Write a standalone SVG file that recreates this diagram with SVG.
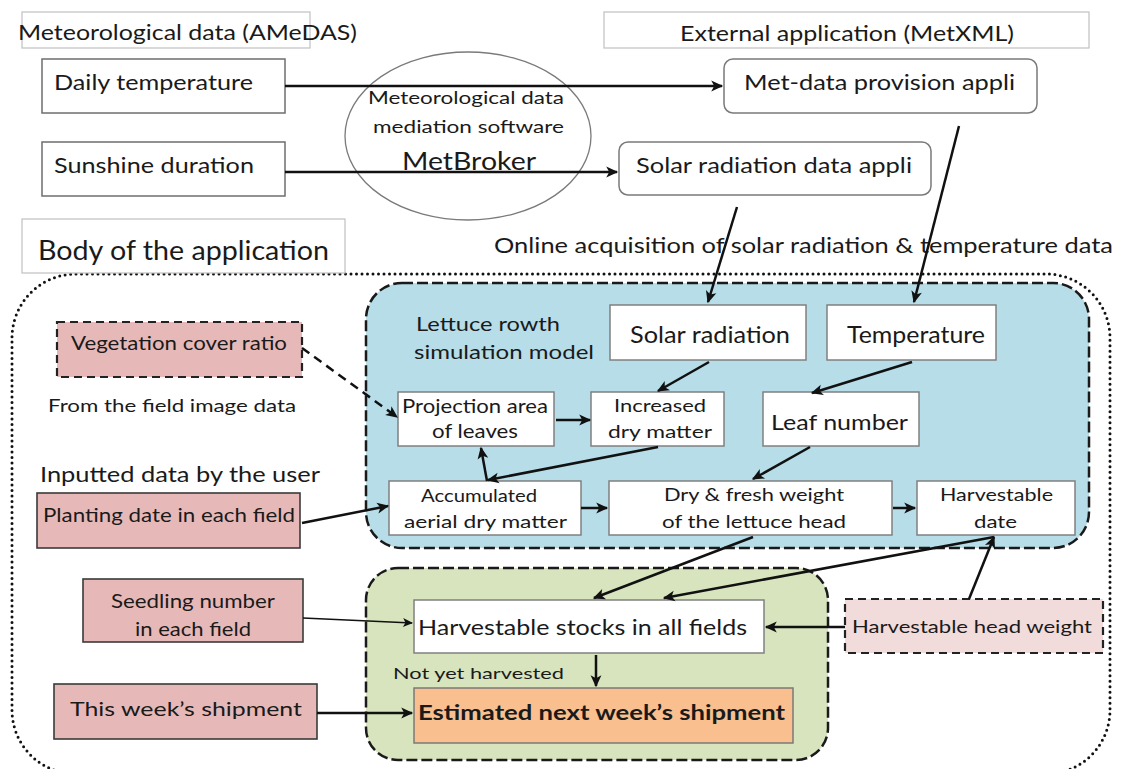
<svg xmlns="http://www.w3.org/2000/svg" width="1122" height="769" viewBox="0 0 1122 769">
<defs>
<marker id="ah" viewBox="0 0 10 10" refX="9" refY="5" markerUnits="userSpaceOnUse" markerWidth="13" markerHeight="12" orient="auto">
<path d="M0,0.5 L10,5 L0,9.5 L2.5,5 z" fill="#111"/>
</marker>
<marker id="ahs" viewBox="0 0 10 10" refX="9" refY="5" markerUnits="userSpaceOnUse" markerWidth="11" markerHeight="10" orient="auto">
<path d="M0,0.5 L10,5 L0,9.5 L2.5,5 z" fill="#111"/>
</marker>
</defs>
<style>
text{font-family:Lato,"Liberation Sans",sans-serif;fill:#1a1a1a}
.title{fill:#fff;stroke:#c0c0c0;stroke-width:1.2}
.src{fill:#fff;stroke:#6e6e6e;stroke-width:1.5}
.app{fill:#fff;stroke:#7a7a7a;stroke-width:1.5}
.wb{fill:#fff;stroke:#808080;stroke-width:1.5}
.pink{fill:#e6b9b8;stroke:#3a3a3a;stroke-width:1.6}
.pinkd{fill:#e6b9b8;stroke:#222;stroke-width:2.2;stroke-dasharray:8 5}
.pinkl{fill:#f2dcdb;stroke:#222;stroke-width:2.2;stroke-dasharray:8 5}
.c{stroke:#111;fill:none;stroke-width:2.5}
.thin{stroke:#111;fill:none;stroke-width:1.6}
</style>

<g id="outer">
<rect x="12" y="274" width="1098" height="500" rx="64" fill="none" stroke="#111" stroke-width="3" stroke-dasharray="0 5.5" stroke-linecap="round"/>
</g>
<g id="sim-model">
<rect x="366" y="283" width="723" height="265" rx="36" fill="#b7dde8" stroke="#1a1a1a" stroke-width="2.5" stroke-dasharray="11 4"/>
<text x="416" y="331" font-size="20" textLength="144" lengthAdjust="spacingAndGlyphs">Lettuce rowth</text>
<text x="414" y="359" font-size="20" textLength="180" lengthAdjust="spacingAndGlyphs">simulation model</text>
</g>
<g id="stock-group">
<rect x="366" y="568" width="462" height="192" rx="32" fill="#d7e4bd" stroke="#1a1a1a" stroke-width="2.5" stroke-dasharray="11 4"/>
</g>

<g id="amedas-title">
<rect class="title" x="22" y="12" width="288" height="36"/>
<text x="18" y="40" font-size="21" textLength="339" lengthAdjust="spacingAndGlyphs">Meteorological data (AMeDAS)</text>
</g>
<g id="metxml-title">
<rect class="title" x="604" y="12" width="485" height="36"/>
<text x="680" y="41" font-size="21" textLength="334" lengthAdjust="spacingAndGlyphs">External application (MetXML)</text>
</g>
<g id="daily-temp">
<rect class="src" x="42" y="59" width="243" height="54"/>
<text x="54" y="90" font-size="22" textLength="199" lengthAdjust="spacingAndGlyphs">Daily temperature</text>
</g>
<g id="sunshine">
<rect class="src" x="42" y="142" width="243" height="54"/>
<text x="54" y="173" font-size="22" textLength="200" lengthAdjust="spacingAndGlyphs">Sunshine duration</text>
</g>
<g id="metbroker">
<ellipse cx="468" cy="136" rx="123" ry="84" fill="none" stroke="#7a7a7a" stroke-width="1.3"/>
<text x="368" y="104" font-size="18" textLength="196" lengthAdjust="spacingAndGlyphs">Meteorological data</text>
<text x="373" y="133" font-size="18" textLength="191" lengthAdjust="spacingAndGlyphs">mediation software</text>
<text x="402" y="170" font-size="25" textLength="134" lengthAdjust="spacingAndGlyphs">MetBroker</text>
</g>
<g id="metdata-appli">
<rect class="app" x="724" y="59" width="313" height="54" rx="9"/>
<text x="744" y="90" font-size="22" textLength="271" lengthAdjust="spacingAndGlyphs">Met-data provision appli</text>
</g>
<g id="solar-appli">
<rect class="app" x="619" y="142" width="312" height="53" rx="9"/>
<text x="636" y="173" font-size="22" textLength="276" lengthAdjust="spacingAndGlyphs">Solar radiation data appli</text>
</g>
<g id="body-title">
<rect class="title" x="22" y="219" width="323" height="54"/>
<text x="38" y="260" font-size="26" textLength="291" lengthAdjust="spacingAndGlyphs">Body of the application</text>
</g>
<g id="online-label">
<text x="494" y="253" font-size="21" textLength="619" lengthAdjust="spacingAndGlyphs">Online acquisition of solar radiation &amp; temperature data</text>
</g>

<g id="solar-radiation">
<rect class="wb" x="610" y="305" width="196" height="55"/>
<text x="630" y="343" font-size="23" textLength="160" lengthAdjust="spacingAndGlyphs">Solar radiation</text>
</g>
<g id="temperature">
<rect class="wb" x="827" y="305" width="169" height="55"/>
<text x="847" y="343" font-size="23" textLength="138" lengthAdjust="spacingAndGlyphs">Temperature</text>
</g>
<g id="projection">
<rect class="wb" x="398" y="392" width="156" height="54"/>
<text x="402" y="413" font-size="19" textLength="146" lengthAdjust="spacingAndGlyphs">Projection area</text>
<text x="432" y="438" font-size="19" textLength="86" lengthAdjust="spacingAndGlyphs">of leaves</text>
</g>
<g id="increased">
<rect class="wb" x="591" y="392" width="133" height="54"/>
<text x="614" y="412" font-size="18" textLength="92" lengthAdjust="spacingAndGlyphs">Increased</text>
<text x="608" y="438" font-size="18" textLength="104" lengthAdjust="spacingAndGlyphs">dry matter</text>
</g>
<g id="leaf-number">
<rect class="wb" x="763" y="392" width="156" height="54"/>
<text x="771" y="430" font-size="21" textLength="137" lengthAdjust="spacingAndGlyphs">Leaf number</text>
</g>
<g id="accumulated">
<rect class="wb" x="389" y="481" width="192" height="54"/>
<text x="421" y="502" font-size="18" textLength="116" lengthAdjust="spacingAndGlyphs">Accumulated</text>
<text x="404" y="528" font-size="18" textLength="163" lengthAdjust="spacingAndGlyphs">aerial dry matter</text>
</g>
<g id="dry-fresh">
<rect class="wb" x="609" y="481" width="283" height="54"/>
<text x="664" y="501" font-size="18" textLength="180" lengthAdjust="spacingAndGlyphs">Dry &amp; fresh weight</text>
<text x="662" y="528" font-size="18" textLength="184" lengthAdjust="spacingAndGlyphs">of the lettuce head</text>
</g>
<g id="harvestable-date">
<rect class="wb" x="917" y="481" width="158" height="54"/>
<text x="940" y="501" font-size="18" textLength="113" lengthAdjust="spacingAndGlyphs">Harvestable</text>
<text x="974" y="528" font-size="18" textLength="43" lengthAdjust="spacingAndGlyphs">date</text>
</g>

<g id="vegetation">
<rect class="pinkd" x="57" y="322" width="245" height="55"/>
<text x="71" y="350" font-size="20" textLength="216" lengthAdjust="spacingAndGlyphs">Vegetation cover ratio</text>
<text x="48" y="412" font-size="18" textLength="248" lengthAdjust="spacingAndGlyphs">From the field image data</text>
</g>
<g id="planting">
<text x="40" y="482" font-size="21" textLength="280" lengthAdjust="spacingAndGlyphs">Inputted data by the user</text>
<rect class="pink" x="37" y="493" width="263" height="55"/>
<text x="43" y="522" font-size="19" textLength="252" lengthAdjust="spacingAndGlyphs">Planting date in each field</text>
</g>
<g id="seedling">
<rect class="pink" x="83" y="579" width="220" height="63"/>
<text x="111" y="608" font-size="19" textLength="164" lengthAdjust="spacingAndGlyphs">Seedling number</text>
<text x="135" y="636" font-size="19" textLength="116" lengthAdjust="spacingAndGlyphs">in each field</text>
</g>
<g id="this-week">
<rect class="pink" x="54" y="684" width="263" height="55"/>
<text x="70" y="716" font-size="20" textLength="232" lengthAdjust="spacingAndGlyphs">This week’s shipment</text>
</g>
<g id="stocks">
<rect class="wb" x="414" y="600" width="350" height="53"/>
<text x="418" y="635" font-size="21" textLength="329" lengthAdjust="spacingAndGlyphs">Harvestable stocks in all fields</text>
<text x="393" y="679" font-size="16" textLength="171" lengthAdjust="spacingAndGlyphs">Not yet harvested</text>
</g>
<g id="estimated">
<rect x="414" y="688" width="379" height="55" fill="#f9bf8f" stroke="#7a7a7a" stroke-width="1.5"/>
<text x="418" y="720" font-size="20" font-weight="bold" textLength="367" lengthAdjust="spacingAndGlyphs">Estimated next week’s shipment</text>
</g>
<g id="head-weight">
<rect class="pinkl" x="845" y="599" width="258" height="54"/>
<text x="852" y="633" font-size="18" textLength="240" lengthAdjust="spacingAndGlyphs">Harvestable head weight</text>
</g>

<g id="connectors">
<line class="c" x1="285" y1="86" x2="722" y2="86" marker-end="url(#ah)"/>
<line class="c" x1="285" y1="172" x2="617" y2="172" marker-end="url(#ah)"/>
<line class="c" x1="737" y1="207" x2="708" y2="302" marker-end="url(#ah)"/>
<line class="c" x1="959" y1="126" x2="914" y2="302" marker-end="url(#ah)"/>
<line class="c" x1="709" y1="362" x2="658" y2="391" marker-end="url(#ah)"/>
<line class="c" x1="912" y1="362" x2="812" y2="393" marker-end="url(#ah)"/>
<line class="c" x1="810" y1="447" x2="753" y2="479" marker-end="url(#ah)"/>
<line class="c" x1="658" y1="447" x2="488" y2="480" marker-end="url(#ah)"/>
<line class="c" x1="487" y1="481" x2="481" y2="448" marker-end="url(#ah)"/>
<line class="c" x1="556" y1="420" x2="590" y2="420" marker-end="url(#ah)"/>
<line class="c" x1="581" y1="508" x2="607" y2="508" marker-end="url(#ah)"/>
<line class="c" x1="893" y1="508" x2="915" y2="508" marker-end="url(#ah)"/>
<line class="c" x1="302" y1="348" x2="397" y2="417" stroke-dasharray="9 6" marker-end="url(#ah)"/>
<line class="c" x1="302" y1="523" x2="388" y2="506" marker-end="url(#ah)"/>
<line class="thin" x1="303" y1="618" x2="412" y2="623" marker-end="url(#ahs)"/>
<line class="c" x1="317" y1="713" x2="412" y2="713" marker-end="url(#ah)"/>
<line class="c" x1="753" y1="537" x2="594" y2="598" marker-end="url(#ah)"/>
<line class="c" x1="994" y1="537" x2="664" y2="598" marker-end="url(#ah)"/>
<line class="c" x1="969" y1="599" x2="994" y2="537" marker-end="url(#ah)"/>
<line class="c" x1="845" y1="627" x2="766" y2="627" marker-end="url(#ah)"/>
<line class="c" x1="596" y1="655" x2="596" y2="686" marker-end="url(#ah)"/>
</g>
</svg>
